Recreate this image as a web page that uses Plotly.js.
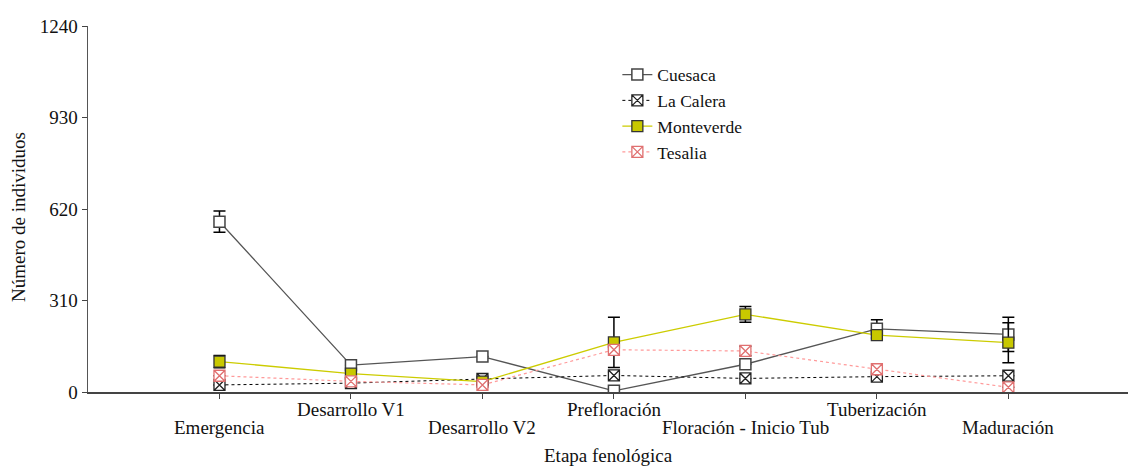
<!DOCTYPE html>
<html><head><meta charset="utf-8">
<script src="https://cdn.plot.ly/plotly-3.0.1.min.js"></script>
<style>body{margin:0;background:#fff}#chart{width:1128px;height:467px}</style>
</head><body><div id="chart"></div>
<script>
const categories = ["Emergencia","Desarrollo V1","Desarrollo V2","Prefloración","Floración - Inicio Tub","Tuberización","Maduración"];
const cuesaca = [577, 91, 120, 4, 94, 214, 195];
const cuesacaErr = [36, 0, 0, 0, 0, 31, 58];
const laCalera = [24, 30, 44, 56, 46, 52, 55];
const laCaleraErr = [0, 0, 0, 12, 0, 0, 0];
const monteverde = [103, 62, 35, 168, 263, 193, 167];
const monteverdeErr = [21, 0, 0, 85, 27, 0, 68];
const tesalia = [55, 36, 24, 143, 139, 77, 16];
const tesaliaErr = [0, 0, 0, 0, 16, 0, 0];
const yTicks = [0, 310, 620, 930, 1240];

const xs = categories.map((c,i)=>i);
const serif = "'Liberation Serif'";
function eb(arr){return {type:'data', array:arr, visible:true, color:'#000', thickness:1.5, width:6};}

const traces = [
 {name:'Cuesaca', x:xs, y:cuesaca, error_y:eb(cuesacaErr), mode:'lines+markers',
  line:{color:'#555', width:1.3}, marker:{symbol:'square', size:11, color:'#fff', line:{color:'#444', width:1.5}}},
 {name:'La Calera', x:xs, y:laCalera, error_y:eb(laCaleraErr), mode:'lines+markers',
  line:{color:'#000', width:1, dash:'dot'}, marker:{symbol:'square-x', size:11, color:'#fff', line:{color:'#222', width:1.3}}},
 {name:'Monteverde', x:xs, y:monteverde, error_y:eb(monteverdeErr), mode:'lines+markers',
  line:{color:'#cccc00', width:1.3}, marker:{symbol:'square', size:11, color:'#c8c800', line:{color:'#333', width:1.3}}},
 {name:'Tesalia', x:xs, y:tesalia, error_y:eb(tesaliaErr), mode:'lines+markers',
  line:{color:'#ff9a9a', width:1.2, dash:'dot'}, marker:{symbol:'square-x', size:11, color:'#fff', line:{color:'#e07070', width:1.3}}}
];

const annotations = categories.map((c,i)=>({
  x:i, xref:'x', y:0, yref:'paper', yanchor:'middle', xanchor:'center', showarrow:false,
  text:c, yshift: (i%2===0) ? -35 : -17, font:{family:serif, size:19, color:'#111'}
}));
annotations.push({x:0.5, xref:'paper', y:0, yref:'paper', yanchor:'middle', xanchor:'center', showarrow:false,
  text:'Etapa fenológica', yshift:-63, font:{family:serif, size:19, color:'#111'}});
annotations.push({x:0, xref:'paper', y:0.5, yref:'paper', xanchor:'center', yanchor:'middle', showarrow:false,
  text:'Número de individuos', textangle:-90, xshift:-70, yshift:-8, font:{family:serif, size:19, color:'#111'}});

const layout = {
  width:1128, height:467,
  margin:{l:88, r:0, t:26, b:75},
  paper_bgcolor:'#fff', plot_bgcolor:'#fff',
  font:{family:serif, size:16, color:'#111'},
  showlegend:true,
  legend:{x:0.509, y:0.916, xanchor:'left', yanchor:'top', bgcolor:'rgba(0,0,0,0)', font:{family:serif, size:17.5, color:'#111'}, tracegroupgap:0},
  xaxis:{range:[-1, 6.91], tickvals:xs, showticklabels:false, ticks:'outside', ticklen:5, tickcolor:'#444',
    showline:true, linecolor:'#444', linewidth:2, showgrid:false, zeroline:false},
  yaxis:{range:[0,1240], tickvals:yTicks, ticktext:yTicks.map(String), ticks:'outside', ticklen:5, tickcolor:'#444',
    showline:true, linecolor:'#555', linewidth:1.5, showgrid:false, zeroline:false,
    tickfont:{family:serif, size:19, color:'#111'}},
  annotations:annotations
};
Plotly.newPlot('chart', traces, layout, {staticPlot:true});
</script></body></html>
